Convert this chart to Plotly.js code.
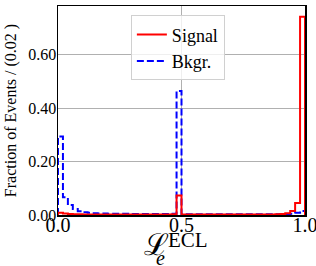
<!DOCTYPE html>
<html>
<head>
<meta charset="utf-8">
<script src="https://cdn.plot.ly/plotly-3.0.1.min.js"></script>
<style>html,body{margin:0;padding:0;background:#fff;}#chart{width:316px;height:266px;}</style>
</head>
<body>
<div id="chart"></div>
<script>
// Histogram definition
var binStart = 0.0;
var binWidth = 0.02;
// Fraction of events per bin (50 bins from 0 to 1)
var signalValues = [
  0.008, 0.006, 0.004, 0.003, 0.003, 0.002, 0.002, 0.002, 0.002, 0.002,
  0.002, 0.002, 0.002, 0.002, 0.002, 0.002, 0.002, 0.002, 0.002, 0.002,
  0.002, 0.002, 0.002, 0.003, 0.073, 0.002, 0.002, 0.002, 0.002, 0.002,
  0.002, 0.002, 0.002, 0.002, 0.002, 0.002, 0.002, 0.002, 0.002, 0.002,
  0.002, 0.002, 0.002, 0.002, 0.003, 0.004, 0.007, 0.015, 0.045, 0.742
];
var bkgrValues = [
  0.294, 0.066, 0.037, 0.022, 0.014, 0.010, 0.008, 0.007, 0.006, 0.006,
  0.005, 0.005, 0.005, 0.005, 0.005, 0.004, 0.004, 0.004, 0.004, 0.004,
  0.004, 0.004, 0.004, 0.005, 0.464, 0.003, 0.003, 0.003, 0.003, 0.003,
  0.003, 0.003, 0.003, 0.003, 0.003, 0.003, 0.003, 0.003, 0.003, 0.003,
  0.003, 0.003, 0.003, 0.003, 0.003, 0.003, 0.004, 0.005, 0.008, 0.015
];
var seriesNames = ["Signal", "Bkgr."];
var yTickVals = [0, 0.2, 0.4, 0.6];
var yTickText = ["0.00", "0.20", "0.40", "0.60"];
var xTickVals = [0, 0.5, 1.0];
var xTickText = ["0.0", "0.5", "1.0"];
// x-axis title pieces: ℒ with subscript e and superscript ECL
var xTitleMain = "ℒ";
var xTitleSub = "<i>e</i>";
var xTitleSup = "ECL";
var yTitle = "Fraction of Events / (0.02 )";

function stepOutline(values) {
  var xs = [binStart], ys = [0];
  for (var i = 0; i < values.length; i++) {
    xs.push(binStart + i * binWidth);
    ys.push(values[i]);
  }
  xs.push(binStart + values.length * binWidth);
  ys.push(0);
  return {x: xs, y: ys};
}

var sig = stepOutline(signalValues);
var bkg = stepOutline(bkgrValues);

var FONT = "Liberation Serif, Times New Roman, serif";

var traces = [
  {x: bkg.x, y: bkg.y, type: "scatter", mode: "lines", name: seriesNames[1],
   line: {shape: "hv", color: "#0000ff", width: 2, dash: "7px,3px"}},
  {x: sig.x, y: sig.y, type: "scatter", mode: "lines", name: seriesNames[0],
   line: {shape: "hv", color: "#ff0000", width: 2}}
];

function titleAnn(text, x, y, size) {
  return {text: text, xref: "paper", yref: "paper", x: x, y: y,
          xanchor: "center", yanchor: "middle", showarrow: false,
          font: {family: FONT, size: size, color: "#000"}};
}

var layout = {
  width: 316, height: 266,
  margin: {l: 58, r: 11, t: 6, b: 51},
  paper_bgcolor: "#ffffff", plot_bgcolor: "#ffffff",
  font: {family: FONT, color: "#000000"},
  showlegend: true,
  legend: {
    x: 0.295, y: 0.955, xanchor: "left", yanchor: "top",
    traceorder: "reversed",
    bgcolor: "rgba(255,255,255,0.8)", bordercolor: "#d0d0d0", borderwidth: 1,
    font: {family: FONT, size: 18, color: "#000"}
  },
  xaxis: {
    range: [0, 1], tickvals: xTickVals, ticktext: xTickText,
    showgrid: true, gridcolor: "#b0b0b0", gridwidth: 1, zeroline: false,
    showline: true, linecolor: "#000", linewidth: 1.5, mirror: true,
    ticks: "", tickfont: {family: FONT, size: 20},
    ticklabeloverflow: "allow", ticklabelstandoff: -9,
    automargin: false
  },
  yaxis: {
    range: [0, 0.782], tickvals: yTickVals, ticktext: yTickText,
    showgrid: true, gridcolor: "#b0b0b0", gridwidth: 1, zeroline: false,
    showline: true, linecolor: "#000", linewidth: 1.5, mirror: true,
    ticks: "", tickfont: {family: FONT, size: 16},
    ticklabeloverflow: "allow", ticklabelstandoff: -3,
    title: {text: yTitle, font: {family: FONT, size: 16}},
    automargin: false
  },
  annotations: [
    titleAnn(xTitleMain, 0.40, -0.14, 30),
    titleAnn(xTitleSup, 0.525, -0.12, 21),
    titleAnn(xTitleSub, 0.415, -0.205, 20)
  ]
};

Plotly.newPlot("chart", traces, layout, {displayModeBar: false, staticPlot: true});
</script>
</body>
</html>
